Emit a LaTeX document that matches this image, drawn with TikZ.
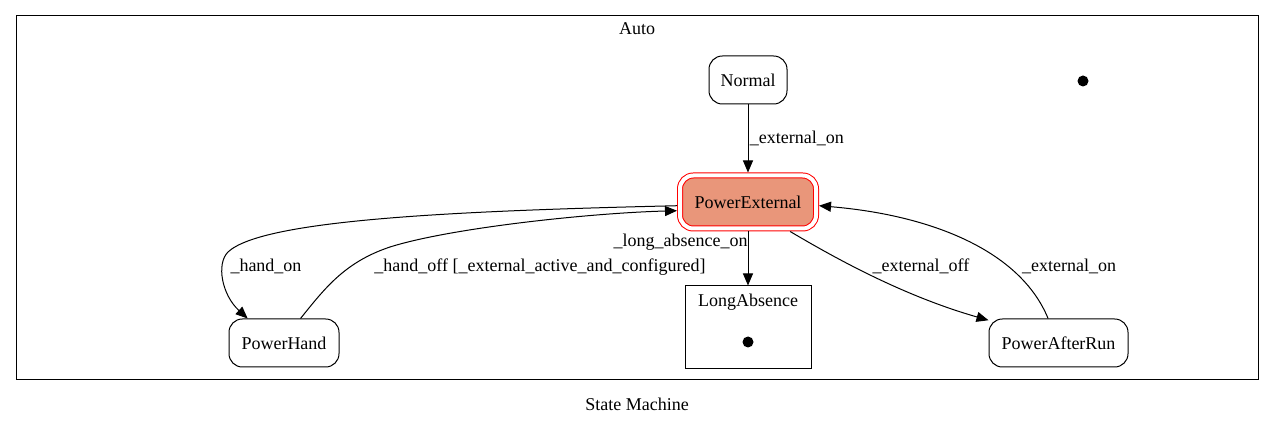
\documentclass[tikz,border=0pt]{standalone}
\usepackage{fontspec}
\setmainfont{Liberation Serif}
\usepackage{xcolor}
\usetikzlibrary{arrows.meta,positioning,calc}
\definecolor{salmonfill}{HTML}{E9967A}

\begin{document}
\begin{tikzpicture}[x=0.75pt, y=-0.75pt, line width=0.75pt,
  font=\fontsize{13.5}{16}\selectfont,
  state/.style={draw, rounded corners=10pt, minimum height=36pt, inner sep=0pt},
  dot/.style={circle, fill, inner sep=0pt, minimum size=8.25pt},
  trans/.style={-{Triangle[length=9pt, width=7.5pt]}},
  lbl/.style={anchor=base, inner sep=0pt}]
\useasboundingbox (0,0) rectangle (1275,427);

% cluster Auto
\node[draw, minimum width=931.5pt, minimum height=273pt, inner sep=0pt] (auto) at (637,198) {};
\node[lbl] (autoLbl) at (637,35) {Auto};
\node[lbl] (title) at (637,411) {State Machine};

% states
\node[state, minimum width=58.5pt] (normal) at (748,80) {Normal};
\node[dot] (init) at (1083,81) {};
\node[state, draw=red, fill=salmonfill, double=white, double distance=3pt,
  minimum width=102pt, minimum height=39.75pt, outer sep=2.25pt] (ext) at (748,202) {PowerExternal};
\node[draw, minimum width=94.5pt, minimum height=62.25pt] (longAbs) at (748,327.5) {};
\node[lbl] (longLbl) at (748,307) {LongAbsence};
\node[dot] (longInit) at (748,342) {};
\node[state, minimum width=82.5pt] (hand) at (284,343) {PowerHand};
\node[state, minimum width=104.25pt] (afterRun) at (1058.5,343) {PowerAfterRun};

% transitions
\draw[trans] (normal) -- node[right, pos=.5, inner sep=1pt]{\_external\_on} (ext);
\draw[trans] (ext) -- node[anchor=east, pos=.2, inner sep=0pt]{\_long\_absence\_on} (longAbs);
\draw[trans] (ext.183) .. controls (450,211) and (262,220) .. (228,252)
  .. controls (216,264) and (222,295) .. (hand.146);
\draw[trans] (hand.56) .. controls (325,288) and (345,262) .. (390,247)
  .. controls (450,228) and (590,213) .. (ext.187);
\draw[trans] (ext.-35) .. controls (830,255) and (900,295) .. (afterRun.162);
\draw[trans] (afterRun.113) .. controls (1020,250) and (930,215) .. (ext.-3);

% labels
\node[lbl] (handOnLbl) at (266,271.5) {\_hand\_on};
\node[lbl] (handOffLbl) at (540,271.5) {\_hand\_off [\_external\_active\_and\_configured]};
\node[lbl] (extOffLbl) at (921,271.5) {\_external\_off};
\node[lbl] (extOnLbl) at (1069,271.5) {\_external\_on};
\end{tikzpicture}
\end{document}
